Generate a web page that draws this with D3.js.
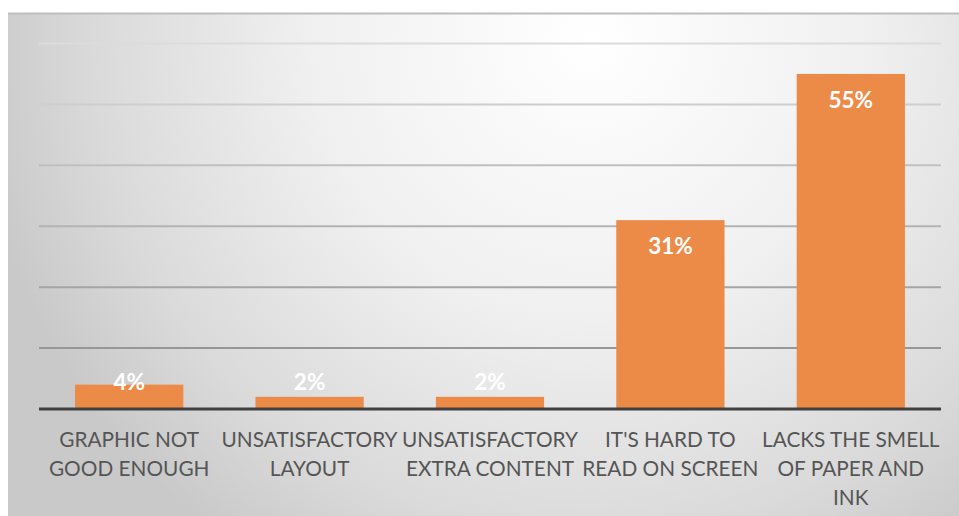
<!DOCTYPE html>
<html>
<head>
<meta charset="utf-8">
<script src="https://cdn.jsdelivr.net/npm/d3@7"></script>
<style>
  html, body { margin: 0; padding: 0; background: #ffffff; }
  svg { display: block; }
</style>
</head>
<body>
<svg id="chart" width="959" height="516"></svg>
<script>
// Survey answers: reasons for preferring print over screen
const categories = [
  "GRAPHIC NOT GOOD ENOUGH",
  "UNSATISFACTORY LAYOUT",
  "UNSATISFACTORY EXTRA CONTENT",
  "IT'S HARD TO READ ON SCREEN",
  "LACKS THE SMELL OF PAPER AND INK"
];
const categoryLines = [
  ["GRAPHIC NOT", "GOOD ENOUGH"],
  ["UNSATISFACTORY", "LAYOUT"],
  ["UNSATISFACTORY", "EXTRA CONTENT"],
  ["IT'S HARD TO", "READ ON SCREEN"],
  ["LACKS THE SMELL", "OF PAPER AND", "INK"]
];
const values = [4, 2, 2, 31, 55];
const yTicks = [0, 10, 20, 30, 40, 50, 60];

const svg = d3.select("#chart");
const W = 959, H = 516;
const plot = { left: 39, right: 941, top: 43.5, bottom: 409 };

// Frame background with soft radial shading
const defs = svg.append("defs");
const grad = defs.append("radialGradient")
  .attr("id", "bg")
  .attr("gradientUnits", "userSpaceOnUse")
  .attr("cx", 590).attr("cy", 40).attr("r", 620);
grad.append("stop").attr("offset", 0).attr("stop-color", "#ffffff");
grad.append("stop").attr("offset", 0.45).attr("stop-color", "#f0f0f0");
grad.append("stop").attr("offset", 0.8).attr("stop-color", "#dadada");
grad.append("stop").attr("offset", 1).attr("stop-color", "#c9c9c9");

svg.append("rect")
  .attr("x", 8).attr("y", 13)
  .attr("width", W - 8).attr("height", H - 13)
  .attr("fill", "url(#bg)");
svg.append("line")
  .attr("x1", 8).attr("x2", W)
  .attr("y1", 13.5).attr("y2", 13.5)
  .attr("stroke", "#bdbdbd").attr("stroke-width", 2);

const x = d3.scaleBand()
  .domain(categories)
  .range([plot.left, plot.right])
  .paddingInner(0.4)
  .paddingOuter(0.2);

const y = d3.scaleLinear()
  .domain([0, 60])
  .range([plot.bottom, plot.top]);

// Horizontal gridlines, fading lighter toward the top
const gridColor = d3.scaleLinear()
  .domain([10, 60])
  .range(["#979797", "#dcdcdc"]);

svg.append("g")
  .selectAll("line")
  .data(yTicks.filter(t => t > 0))
  .join("line")
  .attr("x1", plot.left).attr("x2", plot.right)
  .attr("y1", d => y(d)).attr("y2", d => y(d))
  .attr("stroke", d => gridColor(d))
  .attr("stroke-width", 2);

// Bars
svg.append("g")
  .selectAll("rect")
  .data(values)
  .join("rect")
  .attr("x", (d, i) => x(categories[i]))
  .attr("width", x.bandwidth())
  .attr("y", d => y(d))
  .attr("height", d => y(0) - y(d))
  .attr("fill", "#ec8a48");

// Category axis line
svg.append("line")
  .attr("x1", plot.left).attr("x2", plot.right)
  .attr("y1", y(0)).attr("y2", y(0))
  .attr("stroke", "#404040")
  .attr("stroke-width", 3);

// Value labels at the inside end of each bar
svg.append("g")
  .selectAll("text")
  .data(values)
  .join("text")
  .attr("x", (d, i) => x(categories[i]) + x.bandwidth() / 2)
  .attr("y", d => Math.min(y(d) + 34, y(0) - 19))
  .attr("text-anchor", "middle")
  .attr("font-family", "Lato, 'Open Sans', sans-serif")
  .attr("font-weight", "bold")
  .attr("font-size", 22.5)
  .attr("fill", "#ffffff")
  .text(d => d + "%");

// Category labels, wrapped
const labels = svg.append("g")
  .selectAll("text")
  .data(categories)
  .join("text")
  .attr("x", d => x(d) + x.bandwidth() / 2)
  .attr("y", 447)
  .attr("text-anchor", "middle")
  .attr("font-family", "Lato, 'Open Sans', sans-serif")
  .attr("font-size", 20.8)
  .attr("fill", "#555555");

labels.each(function (d, i) {
  const t = d3.select(this);
  categoryLines[i].forEach((line, k) => {
    t.append("tspan")
      .attr("x", x(d) + x.bandwidth() / 2)
      .attr("y", 447 + k * 29)
      .text(line);
  });
});
</script>
</body>
</html>
